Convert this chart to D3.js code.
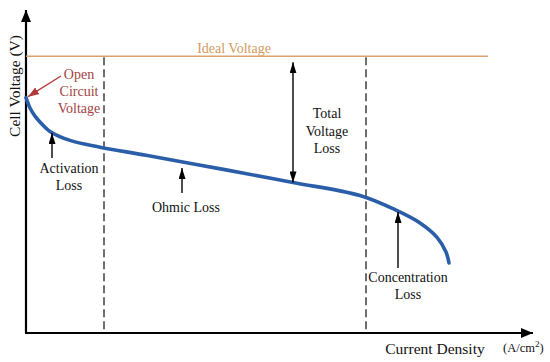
<!DOCTYPE html>
<html>
<head>
<meta charset="utf-8">
<script src="https://cdn.jsdelivr.net/npm/d3@7"></script>
<style>
  body { margin: 0; background: #fff; }
</style>
</head>
<body>
<div id="chart"></div>
<script>
var width = 550,
    height = 362;

// polarization curve (arbitrary current units, volts)
var current = [0, 0.8, 1.8, 2.8, 4.8, 8.8, 14.8, 24, 40, 53.4, 66.8, 73.8, 78.8, 82.2, 84.0, 84.6];
var voltage = [1.046, 1.0, 0.964, 0.938, 0.896, 0.856, 0.826, 0.790, 0.725, 0.669, 0.611, 0.548, 0.489, 0.425, 0.36, 0.311];

var idealVoltage = 1.23,
    idealEnd = 92.4;
var regionBounds = [15.6, 68];   // activation | ohmic | concentration

var x = d3.scaleLinear().domain([0, 100]).range([26, 526]);
var y = d3.scaleLinear().domain([0, 1.4]).range([333, 18]);

var serif = "Liberation Serif";

var svg = d3.select("#chart")
    .append("svg")
    .attr("width", width)
    .attr("height", height)
    .attr("font-family", serif);

var defs = svg.append("defs");

function marker(id, color, w, l) {
    defs.append("marker")
        .attr("id", id)
        .attr("viewBox", "0 0 " + l + " " + w)
        .attr("refX", l)
        .attr("refY", w / 2)
        .attr("markerWidth", l)
        .attr("markerHeight", w)
        .attr("markerUnits", "userSpaceOnUse")
        .attr("orient", "auto-start-reverse")
        .append("path")
        .attr("d", `M0,0L${l},${w / 2}L0,${w}Z`)
        .attr("fill", color);
}
marker("axisHead", "#000", 10, 12);
marker("head", "#000", 7, 11);
marker("redHead", "#b03a3a", 8, 11);

// axes
svg.append("line")
    .attr("x1", x(0)).attr("y1", y(0))
    .attr("x2", x(0)).attr("y2", y(1.4) - 8)
    .attr("stroke", "#000").attr("stroke-width", 2.2)
    .attr("marker-end", "url(#axisHead)");

svg.append("line")
    .attr("x1", x(0) - 1).attr("y1", y(0))
    .attr("x2", x(100) + 7).attr("y2", y(0))
    .attr("stroke", "#000").attr("stroke-width", 2.2)
    .attr("marker-end", "url(#axisHead)");

// ideal voltage
svg.append("line")
    .attr("x1", x(0)).attr("y1", y(idealVoltage))
    .attr("x2", x(idealEnd)).attr("y2", y(idealVoltage))
    .attr("stroke", "#d9a36b").attr("stroke-width", 1.6);

svg.append("text")
    .attr("x", 234).attr("y", 53)
    .attr("text-anchor", "middle")
    .attr("font-family", serif)
    .attr("font-size", 14)
    .attr("fill", "#d49a5e")
    .text("Ideal Voltage");

// region boundaries
svg.selectAll("line.bound")
    .data(regionBounds)
    .enter()
    .append("line")
    .attr("class", "bound")
    .attr("x1", d => x(d)).attr("x2", d => x(d))
    .attr("y1", y(idealVoltage) + 1).attr("y2", y(0))
    .attr("stroke", "#222").attr("stroke-width", 1.3)
    .attr("stroke-dasharray", "8,4");

// curve
var pts = current.map((c, i) => [c, voltage[i]]);
var line = d3.line()
    .x(d => x(d[0]))
    .y(d => y(d[1]))
    .curve(d3.curveCatmullRom.alpha(0.5));

svg.append("path")
    .datum(pts)
    .attr("d", line)
    .attr("fill", "none")
    .attr("stroke", "#2b5ea8")
    .attr("stroke-width", 3.6)
    .attr("stroke-linecap", "round");

// annotations
function arrow(x1, y1, x2, y2, m, color, both) {
    var a = svg.append("line")
        .attr("x1", x1).attr("y1", y1)
        .attr("x2", x2).attr("y2", y2)
        .attr("stroke", color).attr("stroke-width", 1.4)
        .attr("marker-end", `url(#${m})`);
    if (both) a.attr("marker-start", `url(#${m})`);
}

function label(lines, cx, by, color, size, gap) {
    var t = svg.append("text")
        .attr("text-anchor", "middle")
        .attr("font-family", serif)
        .attr("font-size", size)
        .attr("fill", color);
    lines.forEach((s, i) => {
        t.append("tspan").attr("x", cx).attr("y", by + i * gap).text(s);
    });
}

// open circuit voltage
arrow(61, 76, x(current[0]) + 2, y(voltage[0]) - 1, "redHead", "#b03a3a");
label(["Open", "Circuit", "Voltage"], 79, 79, "#a34444", 14, 17);

// activation
arrow(52, 158, 52, 133, "head", "#000");
label(["Activation", "Loss"], 69, 173, "#111", 14, 17);

// ohmic
arrow(182, 193, 182, 168, "head", "#000");
label(["Ohmic Loss"], 186, 212, "#111", 14, 17);

// total loss
arrow(x(53.4), y(idealVoltage) + 6, x(53.4), y(0.669), "head", "#000", true);
label(["Total", "Voltage", "Loss"], 327, 118, "#111", 14, 17.5);

// concentration
arrow(398, 268, 398, 212, "head", "#000");
label(["Concentration", "Loss"], 408, 282, "#111", 14, 17);

// axis titles
svg.append("text")
    .attr("x", 435).attr("y", 354)
    .attr("text-anchor", "middle")
    .attr("font-family", serif)
    .attr("font-size", 15.5)
    .attr("fill", "#111")
    .text("Current Density");

var unit = svg.append("text")
    .attr("x", 503).attr("y", 352)
    .attr("font-family", serif)
    .attr("font-size", 12.5)
    .attr("fill", "#111");
unit.append("tspan").text("(A/cm");
unit.append("tspan").attr("dy", -5).attr("font-size", 9).text("2");
unit.append("tspan").attr("dy", 5).text(")");

svg.append("text")
    .attr("transform", "translate(20,86) rotate(-90)")
    .attr("text-anchor", "middle")
    .attr("font-family", serif)
    .attr("font-size", 15.5)
    .attr("fill", "#111")
    .text("Cell Voltage (V)");
</script>
</body>
</html>
